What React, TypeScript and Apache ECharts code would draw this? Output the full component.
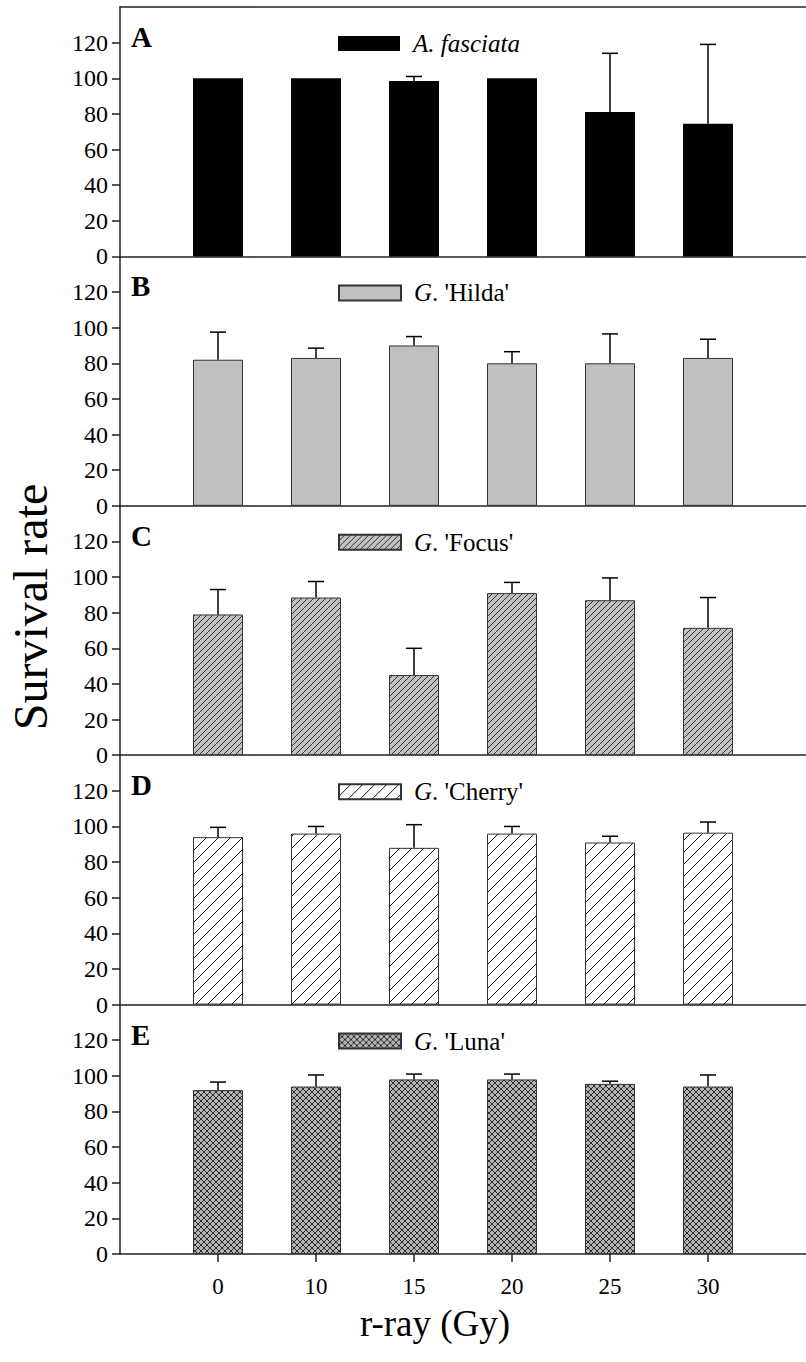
import React, { useEffect, useRef } from "react";
import * as echarts from "echarts";

// ---- data ----
const doses = ["0", "10", "15", "20", "25", "30"];
const panelLetters = ["A", "B", "C", "D", "E"];
const seriesNames = ["A. fasciata", "G. 'Hilda'", "G. 'Focus'", "G. 'Cherry'", "G. 'Luna'"];
const legendLabels = ["{i|A. fasciata}", "{i|G}. 'Hilda'", "{i|G}. 'Focus'", "{i|G}. 'Cherry'", "{i|G}. 'Luna'"];
const fasciataMean = [100, 100, 98.5, 100, 81, 74.5];
const fasciataSd = [0, 0, 2.5, 0, 33, 44.5];
const hildaMean = [82, 83, 90, 80, 80, 83];
const hildaSd = [15.5, 5.5, 5, 6.5, 16.5, 10.5];
const focusMean = [79, 88.5, 45, 91, 87, 71.5];
const focusSd = [14, 9, 15, 6, 12.5, 17];
const cherryMean = [94, 96, 88, 96, 91, 96.5];
const cherrySd = [5.5, 4, 13, 4, 3.5, 6];
const lunaMean = [92, 94, 98, 98, 95.5, 94];
const lunaSd = [4.5, 6.5, 3, 3, 1.5, 6.5];
const yTicks = [0, 20, 40, 60, 80, 100, 120];
const xPositions = [1, 2, 3, 4, 5, 6];

const means = [fasciataMean, hildaMean, focusMean, cherryMean, lunaMean];
const sds = [fasciataSd, hildaSd, focusSd, cherrySd, lunaSd];

const FONT = "Liberation Serif";

function hatch(period: number, bg: string, line: string, lw: number, cross: boolean) {
  const c = document.createElement("canvas");
  c.width = period;
  c.height = period;
  const ctx = c.getContext("2d")!;
  ctx.fillStyle = bg;
  ctx.fillRect(0, 0, period, period);
  ctx.strokeStyle = line;
  ctx.lineWidth = lw;
  ctx.beginPath();
  for (const off of [-period, 0, period]) {
    ctx.moveTo(off, period);
    ctx.lineTo(off + period, 0);
    if (cross) {
      ctx.moveTo(off, 0);
      ctx.lineTo(off + period, period);
    }
  }
  ctx.stroke();
  return c;
}

export default function App() {
  const ref = useRef<HTMLDivElement>(null);
  useEffect(() => {
    if (!ref.current) return;
    const chart = echarts.init(ref.current, undefined, { renderer: "svg" });

    const fills: any[] = [
      { color: "#000000", borderColor: "#000000", borderWidth: 0 },
      { color: "#c0c0c0", borderColor: "#333333", borderWidth: 1 },
      { color: { image: hatch(6, "#c0c0c0", "#333333", 1, false), repeat: "repeat" }, borderColor: "#333333", borderWidth: 1 },
      { color: { image: hatch(12, "#ffffff", "#111111", 1, false), repeat: "repeat" }, borderColor: "#333333", borderWidth: 1 },
      { color: { image: hatch(6, "#b4b4b4", "#2a2a2a", 1, true), repeat: "repeat" }, borderColor: "#333333", borderWidth: 1 },
    ];

    const panelTop = 7;
    const panelH = 249.4;
    const gridLeft = 120;
    const gridWidth = 694;

    const grids: any[] = [];
    const xAxes: any[] = [];
    const yAxes: any[] = [];
    const series: any[] = [];
    const legends: any[] = [];
    const graphics: any[] = [];
    const axisLineStyle = { color: "#222222", width: 1.5 };

    for (let i = 0; i < 5; i++) {
      const top = panelTop + i * panelH;
      grids.push({ left: gridLeft, top, width: gridWidth, height: panelH });
      const last = i === 4;
      xAxes.push({
        type: "value",
        gridIndex: i,
        min: 0,
        max: 7,
        interval: 1,
        axisLine: { show: true, onZero: false, lineStyle: axisLineStyle },
        axisTick: { show: last, customValues: xPositions, length: 8, lineStyle: axisLineStyle },
        axisLabel: {
          show: last,
          customValues: xPositions,
          formatter: (v: number) => doses[v - 1] ?? "",
          fontFamily: FONT,
          fontSize: 23,
          color: "#000",
          margin: 21,
        },
        splitLine: { show: false },
      });
      yAxes.push({
        type: "value",
        gridIndex: i,
        min: 0,
        max: 140,
        interval: 20,
        axisLine: { show: true, lineStyle: axisLineStyle },
        axisTick: { show: true, customValues: yTicks, length: 8, lineStyle: axisLineStyle },
        axisLabel: {
          customValues: yTicks,
          fontFamily: FONT,
          fontSize: 24,
          color: "#000",
          margin: 12,
        },
        splitLine: { show: false },
      });
      series.push({
        type: "bar",
        name: seriesNames[i],
        xAxisIndex: i,
        yAxisIndex: i,
        barWidth: 50,
        itemStyle: fills[i],
        data: xPositions.map((x, k) => [x, means[i][k]]),
      });
      series.push({
        type: "custom",
        name: seriesNames[i] + " SD",
        xAxisIndex: i,
        yAxisIndex: i,
        z: 5,
        data: xPositions.map((x, k) => [x, means[i][k], sds[i][k]]),
        renderItem: (params: any, api: any) => {
          const x = api.value(0);
          const m = api.value(1);
          const sd = api.value(2);
          if (!sd) return { type: "group", children: [] };
          const base = api.coord([x, m]);
          const tp = api.coord([x, m + sd]);
          const hw = 8;
          const st = { stroke: "#000", lineWidth: 1.5 };
          return {
            type: "group",
            children: [
              { type: "line", shape: { x1: base[0], y1: base[1], x2: tp[0], y2: tp[1] }, style: st },
              { type: "line", shape: { x1: tp[0] - hw, y1: tp[1], x2: tp[0] + hw, y2: tp[1] }, style: st },
            ],
          };
        },
      });
      legends.push({
        data: [seriesNames[i]],
        left: 333,
        top: top + 19,
        itemWidth: 62,
        itemHeight: 15,
        selectedMode: false,
        icon: "rect",
        formatter: () => legendLabels[i],
        textStyle: {
          fontFamily: FONT,
          fontSize: 25,
          color: "#000",
          padding: [0, 0, 0, 8],
          rich: {
            i: { fontFamily: FONT, fontSize: 25, fontStyle: "italic", color: "#000" },
          },
        },
      });
      graphics.push({
        type: "text",
        x: 131,
        y: top + 30,
        style: {
          text: panelLetters[i],
          font: `bold 29px ${FONT}`,
          fill: "#000",
          textVerticalAlign: "middle",
        },
      });
    }

    // top frame line of panel A
    xAxes.push({
      type: "value",
      gridIndex: 0,
      position: "top",
      min: 0,
      max: 7,
      axisLine: { show: true, onZero: false, lineStyle: axisLineStyle },
      axisTick: { show: false },
      axisLabel: { show: false },
      splitLine: { show: false },
    });

    graphics.push({
      type: "text",
      x: 30,
      y: 607,
      rotation: Math.PI / 2,
      style: {
        text: "Survival rate",
        font: `48px ${FONT}`,
        fill: "#000",
        textAlign: "center",
        textVerticalAlign: "middle",
      },
    });
    graphics.push({
      type: "text",
      x: 435,
      y: 1323,
      style: {
        text: "r-ray (Gy)",
        font: `37px ${FONT}`,
        fill: "#000",
        textAlign: "center",
        textVerticalAlign: "middle",
      },
    });

    chart.setOption({
      animation: false,
      backgroundColor: "#ffffff",
      textStyle: { fontFamily: FONT },
      grid: grids,
      xAxis: xAxes,
      yAxis: yAxes,
      legend: legends,
      series,
      graphic: graphics,
    });
    return () => chart.dispose();
  }, []);
  return (
    <div
      ref={ref}
      style={{ position: "absolute", left: 0, top: 0, width: 806, height: 1362, background: "#fff" }}
    />
  );
}
